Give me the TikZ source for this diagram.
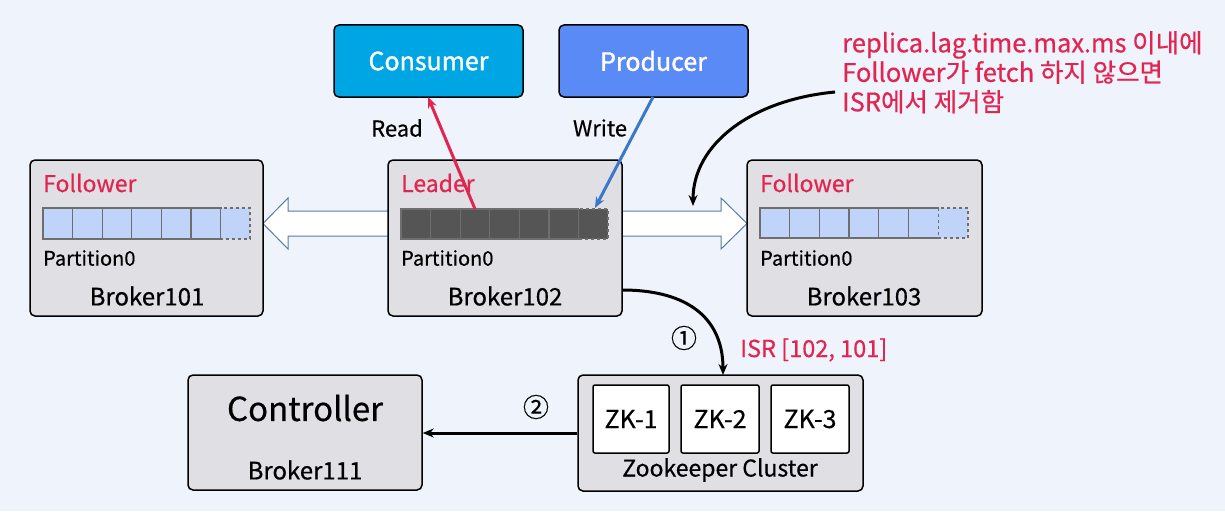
\documentclass[tikz,border=0pt]{standalone}
\usepackage{fontspec}
\setmainfont[FakeBold=0.5]{Noto Sans CJK KR}
\newfontfamily\medfont[FakeBold=1.3]{Noto Sans CJK KR}
\usetikzlibrary{arrows.meta}
\definecolor{bg}{RGB}{238,243,252}
\definecolor{boxgray}{RGB}{224,224,228}
\definecolor{hired}{RGB}{226,36,80}
\definecolor{consblue}{RGB}{0,165,227}
\definecolor{prodblue}{RGB}{90,138,245}
\definecolor{cellblue}{RGB}{192,212,250}
\definecolor{celldark}{RGB}{85,85,85}
\definecolor{cellline}{RGB}{110,110,110}
\definecolor{arrowline}{RGB}{90,123,160}
\definecolor{writeblue}{RGB}{59,120,200}
\tikzset{
  box/.style={draw=black, line width=1.5pt, rounded corners=5pt, fill=boxgray, inner sep=0pt},
  client/.style={draw=black, line width=1.5pt, rounded corners=5pt, inner sep=0pt, text=white, font=\medfont\fontsize{25}{29}\selectfont},
  zkbox/.style={draw=black, line width=1.5pt, rounded corners=2pt, fill=white, inner sep=0pt, font=\fontsize{25}{29}\selectfont},
  lbl/.style={inner sep=0pt, font=\fontsize{24}{28}\selectfont},
  role/.style={inner sep=0pt, anchor=west, text=hired, font=\fontsize{23}{27}\selectfont},
  part/.style={inner sep=0pt, anchor=west, font=\fontsize{20}{24}\selectfont},
  hollow/.style={draw=arrowline, line width=1pt, fill=white},
  cell/.style={draw=cellline, line width=1.3pt},
  conn/.style={line width=3pt, -{Stealth[length=11pt,width=9pt]}},
  circ/.style={inner sep=0pt, font=\fontsize{26}{30}\selectfont},
}
\begin{document}
\begin{tikzpicture}[x=1pt,y=-1pt]
\fill[bg] (0,0) rectangle (1225,511);
\useasboundingbox (0,0) rectangle (1225,511);

% hollow replication arrows
\draw[hollow] (400,211) -- (288,211) -- (288,198) -- (263,223.5) -- (288,249) -- (288,236) -- (400,236) -- cycle;
\draw[hollow] (610,211) -- (721,211) -- (721,198) -- (747,223.5) -- (721,249) -- (721,236) -- (610,236) -- cycle;

% brokers
\node[box, minimum width=233pt, minimum height=156pt] (b101) at (146.5,238) {};
\node[box, minimum width=234pt, minimum height=156pt] (b102) at (505,238) {};
\node[box, minimum width=235pt, minimum height=156pt] (b103) at (864.5,238) {};

\node[role] (f1) at (43,183) {Follower};
\node[role] (ld) at (401,183) {Leader};
\node[role] (f3) at (760,183) {Follower};

\node[part] (p1) at (43,258) {Partition0};
\node[part] (p2) at (401,258) {Partition0};
\node[part] (p3) at (760,258) {Partition0};

\node[lbl] (n101) at (147,296) {Broker101};
\node[lbl] (n102) at (505,296) {Broker102};
\node[lbl] (n103) at (864,296) {Broker103};

% partition cells
\foreach \i in {0,...,5} {
  \draw[cell, fill=cellblue] ({43+\i*29.6},208) rectangle ({43+(\i+1)*29.6},239);
  \draw[cell, fill=celldark] ({401+\i*29.6},209) rectangle ({401+(\i+1)*29.6},239);
  \draw[cell, fill=cellblue] ({760+\i*29.7},208) rectangle ({760+(\i+1)*29.7},238);
}
\draw[cell, fill=cellblue, dashed] (220.6,208) rectangle (250,239);
\draw[cell, fill=celldark, dashed] (578.6,209) rectangle (608,239);
\draw[cell, fill=cellblue, dashed] (938.2,208) rectangle (968,238);

% clients
\node[client, fill=consblue, minimum width=189pt, minimum height=72pt] (cons) at (428.5,61) {Consumer};
\node[client, fill=prodblue, minimum width=189pt, minimum height=72pt] (prod) at (653.5,61) {Producer};

\coordinate (rd) at (475,209);
\coordinate (rdend) at (428,97);
\coordinate (wrs) at (653,97);
\coordinate (wr) at (595,208);
\draw[conn, hired] (rd) -- (rdend);
\draw[conn, writeblue] (wrs) -- (wr);
\node[lbl, font=\fontsize{22}{26}\selectfont] (read) at (397,128) {Read};
\node[lbl, font=\fontsize{22}{26}\selectfont] (write) at (600,128) {Write};

% annotation
\node[inner sep=0pt, anchor=north west, align=left, text=hired, font=\fontsize{25.5}{29.5}\selectfont] (note) at (842,31) {replica.lag.time.max.ms 이내에\\Follower가 fetch 하지 않으면\\ISR에서 제거함};
\coordinate (ns) at (835,92);
\coordinate (nt) at (693,206);
\draw[conn, black] (ns) .. controls (750,100) and (693,145) .. (nt);

% zookeeper
\node[box, minimum width=285pt, minimum height=116pt] (zk) at (720.5,433) {};
\node[zkbox, minimum width=76pt, minimum height=68pt] (zk1) at (631,419) {ZK-1};
\node[zkbox, minimum width=78pt, minimum height=68pt] (zk2) at (720,419) {ZK-2};
\node[zkbox, minimum width=78pt, minimum height=68pt] (zk3) at (810,419) {ZK-3};
\node[lbl, font=\fontsize{23}{27}\selectfont] (zkl) at (720,470) {Zookeeper Cluster};

% controller
\node[box, minimum width=234pt, minimum height=115pt] (ctrl) at (305,432.5) {};
\node[inner sep=0pt, font=\fontsize{33}{38}\selectfont] (ctl) at (305,408) {Controller};
\node[lbl] (n111) at (305,470) {Broker111};

% ISR update
\coordinate (c1s) at (622,290);
\coordinate (c1t) at (723,375);
\draw[conn, black] (c1s) .. controls (690,290) and (723,320) .. (c1t);
\node[circ] (one) at (684,338) {①};
\node[lbl, anchor=west, text=hired, font=\fontsize{23.5}{27}\selectfont] (isr) at (740,350) {ISR [102, 101]};

\draw[conn, black] (zk.west |- 0,433) -- (ctrl.east |- 0,433);
\node[circ] (two) at (536,407) {②};
\end{tikzpicture}
\end{document}
